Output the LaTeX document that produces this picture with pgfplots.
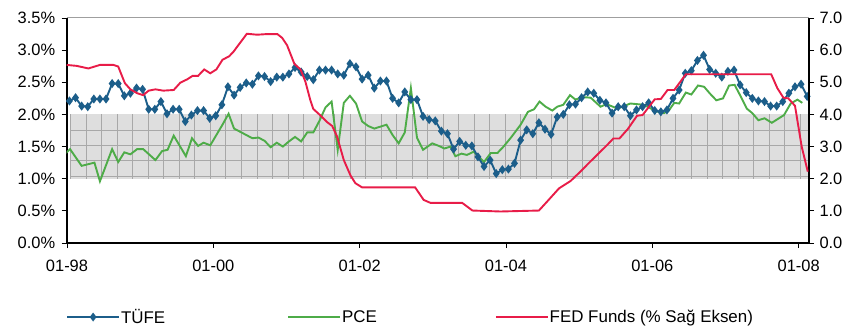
\documentclass[border=0pt]{standalone}
\usepackage{fontspec}
\setmainfont{Liberation Sans}
\usepackage{pgfplots}
\pgfplotsset{compat=1.18}
\definecolor{tufe}{RGB}{28,94,138}
\definecolor{pce}{RGB}{78,172,72}
\definecolor{fed}{RGB}{232,28,72}
\definecolor{bandfill}{RGB}{222,222,222}
\definecolor{bandline}{RGB}{168,168,168}
\begin{document}
\begin{tikzpicture}
\pgfplotsset{
  base/.style={scale only axis, width=742.3bp, height=225bp,
    xmin=-0.45, xmax=121.3,
    tick align=outside, major tick length=5bp,
    tick style={black, line width=0.8bp},
    tick label style={font=\fontsize{16.5}{19}\selectfont},
    axis line style={-}},
}
\begin{axis}[base, ymin=0, ymax=3.5,
  axis x line*=bottom, axis y line*=left,
  x axis line style={-, black, line width=1.3bp},
  y axis line style={-, black, line width=2bp},
  xtick={-0.4,23.6,47.6,71.6,95.6,119.6},
  xticklabels={01-98,01-00,01-02,01-04,01-06,01-08},
  xticklabel style={yshift=-9bp},
  ytick={0,0.5,1,1.5,2,2.5,3,3.5},
  yticklabels={0.0\%,0.5\%,1.0\%,1.5\%,2.0\%,2.5\%,3.0\%,3.5\%},
  yticklabel style={xshift=-3bp},
  legend columns=3,
  legend style={draw=none, fill=none, inner sep=0pt, at={(-0.0009,-0.329)}, anchor=west,
    font=\fontsize{17}{19}\selectfont, nodes={inner sep=1bp},
    /tikz/column 2/.style={column sep=121bp},
    /tikz/column 4/.style={column sep=117bp}},
  legend image code/.code={\draw[mark repeat=2,mark phase=2,#1] plot coordinates {(0bp,0bp) (26bp,0bp) (52bp,0bp)};},
]
\addlegendimage{tufe, line width=1.8bp, mark=diamond*, mark size=3bp}
\addlegendentry{TÜFE}
\addlegendimage{pce, line width=1.8bp}
\addlegendentry{PCE}
\addlegendimage{fed, line width=1.8bp}
\addlegendentry{FED Funds (\% Sağ Eksen)}
% reference band 1%-2%
\fill[bandfill] (axis cs:0.18,1) rectangle (axis cs:121.3,2);
\pgfplotsinvokeforeach{0,...,47}{%
  \pgfmathsetmacro\gx{0.18+#1*2.545}%
  \edef\tmp{\noexpand\draw[bandline, line width=0.45bp] (axis cs:\gx,1) -- (axis cs:\gx,2);}\tmp}
\pgfplotsinvokeforeach{1.04,1.28,1.52,1.76}{%
  \draw[bandline, line width=0.45bp] (axis cs:0.18,#1) -- (axis cs:121.3,#1);}
% PCE
\addplot[pce, line width=1.9bp, forget plot] coordinates {
(-0.9,1.37) (0.1,1.46) (2,1.20) (4.1,1.25) (5,0.96) (7,1.46) (8,1.26) (9,1.41) (10,1.38) (11.1,1.46) (12.1,1.46) (14.1,1.29) (15.2,1.43) (16.1,1.45) (17.1,1.67) (19.1,1.35) (20.1,1.63) (21.1,1.51) (22,1.56) (23.1,1.52) (25.1,1.84) (26.1,2.01) (27,1.78) (28,1.73) (29,1.68) (30,1.63) (31,1.64) (32,1.59) (33,1.49) (34,1.56) (35,1.50) (36,1.58) (37,1.65) (38,1.58) (39,1.72) (40,1.72) (41,1.90) (42,2.11) (43,2.20) (44,1.45) (45,2.18) (46,2.29) (47,2.17) (48,1.89) (49,1.82) (50,1.78) (51,1.81) (52,1.84) (53,1.68) (54,1.55) (55,1.72) (56,2.41) (57,1.64) (58,1.45) (59.5,1.55) (60.6,1.51) (61.5,1.47) (62.5,1.50) (63.3,1.35) (64.3,1.39) (65.2,1.37) (66.3,1.42) (68,1.26) (69.1,1.40) (70.2,1.40) (71.2,1.50) (72.5,1.65) (74,1.84) (75.2,2.04) (76.2,2.08) (77.1,2.20) (78.1,2.12) (79.2,2.06) (80,2.12) (81,2.15) (82.1,2.30) (83,2.23) (84.1,2.27) (85.5,2.26) (87.1,2.12) (88.1,2.16) (89.9,2.09) (92,2.17) (94.2,2.15) (96.2,2.05) (97.5,2.02) (98.3,2.06) (99.2,2.18) (100,2.17) (101.1,2.34) (102,2.31) (103.1,2.45) (104.1,2.43) (105,2.33) (106.1,2.22) (107.2,2.25) (108.2,2.45) (109.1,2.46) (110.1,2.28) (111.1,2.09) (112,2.02) (113,1.91) (114,1.94) (115.2,1.87) (116.2,1.93) (117.2,1.99) (118.3,2.17) (119.4,2.23) (120.2,2.18)
};
% TUFE
\addplot[tufe, line width=1.9bp, mark=diamond*, mark size=3bp, forget plot] coordinates {
(0,2.21) (1,2.26) (2,2.13) (3,2.12) (4,2.24) (5,2.24) (6,2.24) (7,2.48) (8,2.48) (9,2.29)
(10,2.33) (11,2.41) (12,2.39) (13,2.08) (14,2.08) (15,2.20) (16,2.01) (17,2.08) (18,2.08) (19,1.89)
(20,1.99) (21,2.06) (22,2.06) (23,1.94) (24,1.98) (25,2.15) (26,2.43) (27,2.30) (28,2.42) (29,2.49)
(30,2.47) (31,2.60) (32,2.59) (33,2.51) (34,2.58) (35,2.58) (36,2.63) (37,2.73) (38,2.66) (39,2.59)
(40,2.54) (41,2.69) (42,2.69) (43,2.69) (44,2.63) (45,2.61) (46,2.79) (47,2.74) (48,2.55) (49,2.61)
(50,2.41) (51,2.52) (52,2.52) (53,2.25) (54,2.18) (55,2.35) (56,2.23) (57,2.23) (58,1.97) (59,1.92)
(60,1.90) (61,1.74) (62,1.70) (63,1.46) (64,1.58) (65,1.52) (66,1.51) (67,1.34) (68,1.19) (69,1.29)
(70,1.08) (71,1.14) (72,1.15) (73,1.24) (74,1.60) (75,1.76) (76,1.70) (77,1.87) (78,1.77) (79,1.69)
(80,1.96) (81,2.00) (82,2.15) (83,2.16) (84,2.26) (85,2.35) (86,2.33) (87,2.22) (88,2.18) (89,2.02)
(90,2.12) (91,2.12) (92,1.98) (93,2.07) (94,2.12) (95,2.18) (96,2.06) (97,2.04) (98,2.07) (99,2.25)
(100,2.38) (101,2.64) (102,2.68) (103,2.84) (104,2.92) (105,2.70) (106,2.64) (107,2.58) (108,2.67) (109,2.69)
(110,2.46) (111,2.34) (112,2.25) (113,2.21) (114,2.20) (115,2.13) (116,2.13) (117,2.20) (118,2.33) (119,2.43)
(120,2.47) (121,2.28)
};
\end{axis}
\begin{axis}[base, ymin=0, ymax=7,
  axis y line*=right, axis x line*=top,
  x axis line style={-, gray!75, line width=1bp},
  y axis line style={-, black, line width=1.6bp},
  xtick=\empty,
  ytick={0,1,2,3,4,5,6,7},
  yticklabels={0.0,1.0,2.0,3.0,4.0,5.0,6.0,7.0},
  yticklabel style={xshift=2bp},
]
\addplot[fed, line width=1.9bp] coordinates {
(-0.45,5.54) (1.2,5.51) (3.1,5.43) (5,5.54) (7.2,5.54) (8,5.49) (9.1,4.97) (10,4.78) (11.1,4.66) (12.1,4.60) (13,4.74) (14.1,4.78) (15.4,4.74) (17.1,4.76) (18.2,4.99) (19.3,5.09) (20.2,5.20) (21.1,5.20) (22.1,5.40) (23.1,5.28) (24.1,5.40) (25.1,5.70) (26.2,5.81) (26.9,5.95) (29.1,6.51) (30.8,6.48) (32.4,6.50) (34.1,6.50) (34.9,6.38) (35.7,6.15) (36.9,5.57) (37.9,5.40) (38.7,5.02) (39.5,4.45) (40,4.17) (41.1,3.98) (42.2,3.77) (43.1,3.64) (43.9,3.31) (45,2.58) (46.1,2.10) (46.9,1.86) (48,1.73) (56.7,1.73) (58.1,1.34) (59.2,1.25) (64.4,1.25) (66.1,1.01) (70.7,0.98) (77,1.01) (78.4,1.30) (80.3,1.70) (82.2,1.93) (83.8,2.22) (85.2,2.49) (86.7,2.77) (88.2,3.05) (89.2,3.25) (90.2,3.25) (91.6,3.55) (93.1,3.96) (94,3.98) (96,4.47) (97,4.48) (98.1,4.76) (99.2,4.76) (101.1,5.25) (115.1,5.25) (116.1,4.82) (117.1,4.52) (117.9,4.50) (119,4.27) (120.1,3.00) (121.1,2.22)
};
\end{axis}
\pgfresetboundingbox
\useasboundingbox (-66.7bp,-86bp) rectangle (798.3bp,243bp);
\end{tikzpicture}
\end{document}
